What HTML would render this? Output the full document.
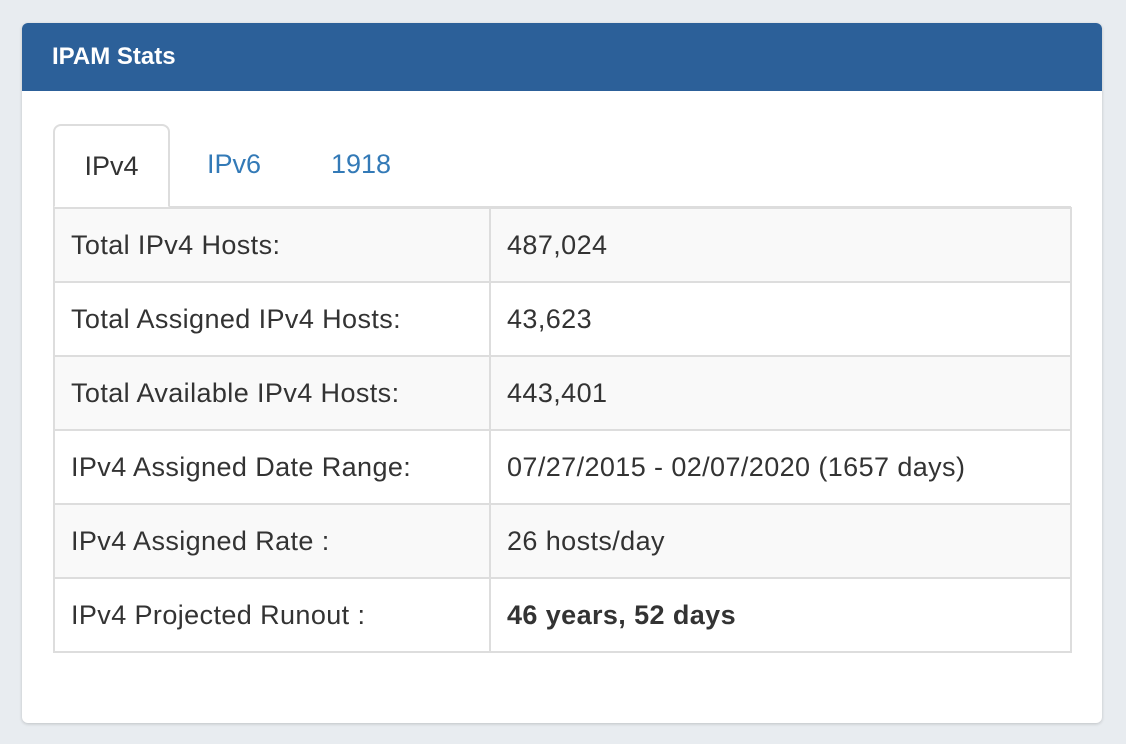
<!DOCTYPE html>
<html><head><style>
body{margin:0;width:1126px;height:744px;background:#e8ecf0;font-family:"Liberation Sans",Arial,sans-serif;overflow:hidden;position:relative}
.panel{position:absolute;left:22px;top:23px;width:1080px;height:700px;background:#fff;border-radius:6px;box-shadow:0 1px 3px rgba(0,0,0,.18)}
.hd{height:68px;background:#2c6099;border-radius:6px 6px 0 0;color:#fff;font-weight:bold;font-size:24px;line-height:68px;padding-left:30px}
.tabs{position:absolute;left:31px;top:101px;width:1018px;height:82px;border-bottom:2px solid #ddd}
.tab{position:absolute;top:0;height:82px;line-height:80px;font-size:27px;color:#337ab7}
.tab.act{left:0;width:117px;border:2px solid #ddd;border-bottom:2px solid #fff;border-radius:8px 8px 0 0;background:#fff;color:#333;text-align:center;box-sizing:border-box;height:84px}
table{position:absolute;left:31px;top:184px;width:1019px;border-collapse:collapse}
td{border:2px solid #ddd;height:74px;font-size:27px;letter-spacing:0.4px;color:#333;padding:0 0 0 16px;box-sizing:border-box}
tr:nth-child(odd) td{background:#f9f9f9}
td:first-child{width:436px}
</style></head><body>
<div class="panel">
<div class="hd">IPAM Stats</div>
<div class="tabs">
<div class="tab act">IPv4</div>
<div class="tab" style="left:154px">IPv6</div>
<div class="tab" style="left:278px">1918</div>
</div>
<table>
<tr><td>Total IPv4 Hosts:</td><td>487,024</td></tr>
<tr><td>Total Assigned IPv4 Hosts:</td><td>43,623</td></tr>
<tr><td>Total Available IPv4 Hosts:</td><td>443,401</td></tr>
<tr><td>IPv4 Assigned Date Range:</td><td>07/27/2015 - 02/07/2020 (1657 days)</td></tr>
<tr><td>IPv4 Assigned Rate :</td><td>26 hosts/day</td></tr>
<tr><td>IPv4 Projected Runout :</td><td><b>46 years, 52 days</b></td></tr>
</table>
</div>
</body></html>
